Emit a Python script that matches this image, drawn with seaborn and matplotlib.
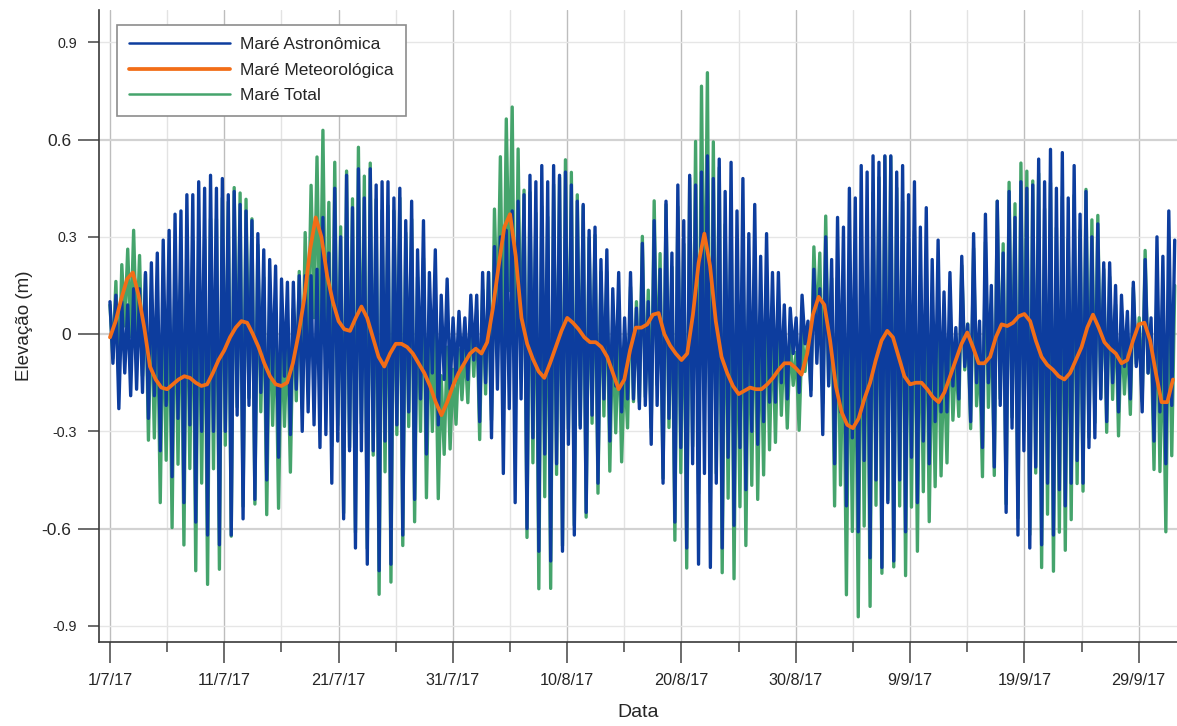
import numpy as np
import pandas as pd
import matplotlib
matplotlib.use("Agg")
import matplotlib.pyplot as plt
import matplotlib.dates as mdates
from matplotlib.ticker import FixedLocator, FixedFormatter, NullFormatter
from matplotlib.lines import Line2D
import seaborn as sns

# ---------------- data ----------------
series_names = ["Maré Astronômica", "Maré Meteorológica", "Maré Total"]

x_major_dates = ["2017-07-01", "2017-07-11", "2017-07-21", "2017-07-31", "2017-08-10",
                 "2017-08-20", "2017-08-30", "2017-09-09", "2017-09-19", "2017-09-29"]
x_tick_labels = ["1/7/17", "11/7/17", "21/7/17", "31/7/17", "10/8/17",
                 "20/8/17", "30/8/17", "9/9/17", "19/9/17", "29/9/17"]
x_minor_dates = ["2017-07-06", "2017-07-16", "2017-07-26", "2017-08-05", "2017-08-15",
                 "2017-08-25", "2017-09-04", "2017-09-14", "2017-09-24"]

y_major_ticks = [-0.6, 0.0, 0.6]
y_major_labels = ["-0.6", "0", "0.6"]
y_minor_ticks = [-0.9, -0.3, 0.3, 0.9]
y_minor_labels = ["-0.9", "-0.3", "0.3", "0.9"]

# successive high waters of the astronomical tide (m)
astro_high = [
    0.10, 0.12, 0.10, 0.09, 0.14, 0.14, 0.19, 0.22, 0.25, 0.29,
    0.32, 0.37, 0.38, 0.43, 0.43, 0.47, 0.45, 0.49, 0.45, 0.48,
    0.43, 0.44, 0.40, 0.38, 0.35, 0.31, 0.26, 0.23, 0.21, 0.17,
    0.16, 0.16, 0.18, 0.18, 0.18, 0.20, 0.36, 0.25, 0.45, 0.30,
    0.49, 0.39, 0.51, 0.42, 0.51, 0.46, 0.47, 0.47, 0.42, 0.45,
    0.35, 0.41, 0.26, 0.35, 0.19, 0.26, 0.12, 0.17, 0.05, 0.07,
    0.05, 0.12, 0.12, 0.19, 0.19, 0.27, 0.30, 0.32, 0.38, 0.41,
    0.43, 0.49, 0.47, 0.52, 0.47, 0.52, 0.49, 0.50, 0.46, 0.41,
    0.40, 0.32, 0.33, 0.23, 0.26, 0.14, 0.19, 0.05, 0.19, 0.08,
    0.28, 0.10, 0.35, 0.20, 0.41, 0.25, 0.46, 0.35, 0.49, 0.46,
    0.50, 0.55, 0.48, 0.54, 0.44, 0.53, 0.38, 0.48, 0.31, 0.40,
    0.24, 0.31, 0.19, 0.19, 0.09, 0.08, 0.05, 0.12, 0.04, 0.20,
    0.14, 0.30, 0.23, 0.36, 0.33, 0.45, 0.42, 0.52, 0.50, 0.55,
    0.53, 0.55, 0.55, 0.50, 0.52, 0.43, 0.47, 0.33, 0.39, 0.23,
    0.29, 0.13, 0.19, 0.02, 0.24, 0.03, 0.31, 0.04, 0.37, 0.15,
    0.41, 0.25, 0.44, 0.36, 0.47, 0.45, 0.46, 0.54, 0.47, 0.57,
    0.45, 0.56, 0.42, 0.52, 0.37, 0.44, 0.30, 0.34, 0.22, 0.22,
    0.15, 0.12, 0.07, 0.16, 0.02, 0.23, 0.05, 0.30, 0.24, 0.38,
    0.29,
]

# successive low waters of the astronomical tide (m)
astro_low = [
    -0.09, -0.23, -0.12, -0.19, -0.17, -0.18, -0.26, -0.19, -0.36, -0.22,
    -0.44, -0.26, -0.52, -0.28, -0.58, -0.30, -0.62, -0.30, -0.65, -0.30,
    -0.62, -0.25, -0.57, -0.22, -0.51, -0.18, -0.45, -0.14, -0.38, -0.13,
    -0.31, -0.17, -0.30, -0.24, -0.28, -0.35, -0.31, -0.46, -0.33, -0.57,
    -0.36, -0.66, -0.36, -0.71, -0.36, -0.73, -0.33, -0.71, -0.28, -0.62,
    -0.24, -0.51, -0.20, -0.37, -0.12, -0.28, -0.14, -0.17, -0.14, -0.10,
    -0.14, -0.08, -0.27, -0.15, -0.32, -0.17, -0.43, -0.23, -0.52, -0.20,
    -0.60, -0.32, -0.67, -0.37, -0.70, -0.40, -0.67, -0.34, -0.62, -0.29,
    -0.55, -0.25, -0.46, -0.20, -0.33, -0.16, -0.24, -0.20, -0.20, -0.23,
    -0.22, -0.34, -0.22, -0.46, -0.26, -0.58, -0.35, -0.66, -0.40, -0.71,
    -0.43, -0.72, -0.46, -0.66, -0.38, -0.59, -0.35, -0.48, -0.30, -0.34,
    -0.27, -0.21, -0.21, -0.15, -0.20, -0.06, -0.18, -0.03, -0.19, -0.09,
    -0.31, -0.16, -0.40, -0.24, -0.53, -0.32, -0.61, -0.39, -0.69, -0.45,
    -0.72, -0.52, -0.70, -0.45, -0.61, -0.38, -0.52, -0.33, -0.40, -0.27,
    -0.24, -0.24, -0.16, -0.20, -0.10, -0.27, -0.15, -0.35, -0.15, -0.41,
    -0.22, -0.55, -0.29, -0.62, -0.36, -0.66, -0.41, -0.65, -0.46, -0.62,
    -0.48, -0.53, -0.46, -0.39, -0.46, -0.35, -0.32, -0.20, -0.27, -0.15,
    -0.24, -0.10, -0.20, -0.10, -0.24, -0.12, -0.33, -0.24, -0.40, -0.22,
]

# meteorological tide, one value every 12 h from 1/7/17 00:00 (m)
meteo = [
    -0.01, 0.04, 0.11, 0.17, 0.19, 0.12, 0.02, -0.10, -0.14, -0.165,
    -0.17, -0.155, -0.14, -0.13, -0.135, -0.15, -0.16, -0.155, -0.12, -0.08,
    -0.05, -0.01, 0.02, 0.04, 0.035, 0.0, -0.04, -0.09, -0.13, -0.155,
    -0.16, -0.15, -0.09, 0.0, 0.11, 0.26, 0.36, 0.30, 0.18, 0.10,
    0.04, 0.015, 0.01, 0.05, 0.085, 0.05, -0.01, -0.07, -0.10, -0.06,
    -0.03, -0.03, -0.04, -0.06, -0.09, -0.12, -0.16, -0.21, -0.25, -0.21,
    -0.16, -0.12, -0.09, -0.06, -0.045, -0.06, -0.025, 0.08, 0.21, 0.33,
    0.37, 0.24, 0.05, -0.03, -0.077, -0.115, -0.135, -0.09, -0.04, 0.01,
    0.05, 0.035, 0.015, -0.01, -0.025, -0.025, -0.04, -0.07, -0.12, -0.17,
    -0.14, -0.05, 0.02, 0.02, 0.03, 0.06, 0.065, 0.0, -0.035, -0.06,
    -0.08, -0.06, 0.06, 0.22, 0.31, 0.21, 0.04, -0.07, -0.12, -0.16,
    -0.185, -0.175, -0.165, -0.17, -0.17, -0.155, -0.135, -0.11, -0.09, -0.09,
    -0.105, -0.125, -0.06, 0.06, 0.115, 0.09, -0.02, -0.16, -0.24, -0.28,
    -0.29, -0.26, -0.20, -0.15, -0.08, -0.02, 0.01, -0.01, -0.07, -0.13,
    -0.155, -0.15, -0.15, -0.17, -0.195, -0.21, -0.18, -0.13, -0.08, -0.03,
    0.005, -0.04, -0.09, -0.09, -0.07, -0.01, 0.03, 0.025, 0.035, 0.055,
    0.062, 0.04, -0.02, -0.07, -0.095, -0.11, -0.13, -0.14, -0.12, -0.08,
    -0.04, 0.02, 0.06, 0.02, -0.025, -0.045, -0.06, -0.09, -0.08, -0.02,
    0.03, 0.035, -0.02, -0.12, -0.21, -0.21, -0.14,
]

# ---------------- build time series ----------------
start = pd.Timestamp("2017-07-01 00:00")
tide_period_h = 12.42
hi_h = np.arange(len(astro_high)) * tide_period_h
lo_h = (np.arange(len(astro_low)) + 0.5) * tide_period_h
met_h = np.arange(len(meteo)) * 12.0

astro_vals = np.array(astro_high + astro_low)
ext_h = np.concatenate([hi_h, lo_h])
# total tide = astronomical + meteorological (value of the surge at each extreme)
total_vals = astro_vals + np.interp(ext_h, met_h, np.array(meteo))

df_tide = pd.DataFrame({
    "time": start + pd.to_timedelta(ext_h, unit="h"),
    "astro": astro_vals,
    "total": total_vals,
}).sort_values("time")
df_met = pd.DataFrame({"time": start + pd.to_timedelta(met_h, unit="h"), "meteo": meteo})

# ---------------- style ----------------
sns.set_theme(style="white")
plt.rcParams["font.family"] = ["Liberation Sans", "DejaVu Sans"]

c_astro = "#0d3d9e"
c_meteo = "#f26d17"
c_total = "#45a46c"
txt = "#262626"

W, H = 1177, 726
fig = plt.figure(figsize=(W / 100, H / 100), dpi=100)
ax = fig.add_axes([99 / W, 1 - 642 / H, (W - 99) / W, (642 - 10) / H])

sns.lineplot(data=df_tide, x="time", y="total", ax=ax, color=c_total, lw=2.4,
             estimator=None, sort=False, solid_joinstyle="round")
sns.lineplot(data=df_tide, x="time", y="astro", ax=ax, color=c_astro, lw=2.4,
             estimator=None, sort=False, solid_joinstyle="round")
sns.lineplot(data=df_met, x="time", y="meteo", ax=ax, color=c_meteo, lw=2.7,
             estimator=None, sort=False, solid_joinstyle="round")

# limits
ax.set_xlim(start - pd.Timedelta(days=0.96), start + pd.Timedelta(days=93.35))
ax.set_ylim(-0.95, 1.0)

# x ticks
ax.xaxis.set_major_locator(FixedLocator(mdates.date2num(pd.to_datetime(x_major_dates).to_pydatetime())))
ax.xaxis.set_major_formatter(FixedFormatter(x_tick_labels))
ax.xaxis.set_minor_locator(FixedLocator(mdates.date2num(pd.to_datetime(x_minor_dates).to_pydatetime())))
ax.xaxis.set_minor_formatter(NullFormatter())

# y ticks
ax.yaxis.set_major_locator(FixedLocator(y_major_ticks))
ax.yaxis.set_major_formatter(FixedFormatter(y_major_labels))
ax.yaxis.set_minor_locator(FixedLocator(y_minor_ticks))
ax.yaxis.set_minor_formatter(FixedFormatter(y_minor_labels))

ax.tick_params(axis="x", which="major", direction="out", length=15, width=1.1,
               color="#444444", labelsize=11.7, labelcolor=txt, pad=7.5, bottom=True)
ax.tick_params(axis="x", which="minor", direction="out", length=7.5, width=1.1,
               color="#444444", bottom=True)
ax.tick_params(axis="y", which="major", direction="out", length=15, width=1.1,
               color="#444444", labelsize=12.5, labelcolor=txt, pad=5, left=True)
ax.tick_params(axis="y", which="minor", direction="out", length=8, width=1.1,
               color="#444444", labelsize=10.3, labelcolor=txt, pad=8, left=True)

# grid
ax.set_axisbelow(True)
ax.grid(which="major", axis="x", color="#bdbdbd", lw=1.0)
ax.grid(which="minor", axis="x", color="#e3e3e3", lw=1.0)
ax.grid(which="major", axis="y", color="#d2d2d2", lw=1.6)
ax.grid(which="minor", axis="y", color="#e6e6e6", lw=1.0)

# spines
for s in ["top", "right"]:
    ax.spines[s].set_visible(False)
for s in ["left", "bottom"]:
    ax.spines[s].set_color("#3a3a3a")
    ax.spines[s].set_linewidth(1.2)

# labels
ax.set_xlabel("Data", fontsize=14, color=txt)
ax.set_ylabel("Elevação (m)", fontsize=13.5, color=txt)
ax.xaxis.set_label_coords(0.5, (642 - 704) / 632)
ax.yaxis.set_label_coords((33 - 99) / 1078, 0.5)

# legend
handles = [
    Line2D([], [], color=c_astro, lw=1.8),
    Line2D([], [], color=c_meteo, lw=2.7),
    Line2D([], [], color=c_total, lw=1.8),
]
leg = ax.legend(handles, series_names, loc="upper left",
                bbox_to_anchor=((117 - 99) / 1078, (642 - 25) / 632),
                borderaxespad=0, fontsize=12.5, frameon=True, fancybox=False,
                handlelength=5.8, handletextpad=0.6, labelspacing=0.6,
                borderpad=0.7)
leg.get_frame().set_edgecolor("#8c8c8c")
leg.get_frame().set_linewidth(1.2)
leg.get_frame().set_facecolor("white")
leg.get_frame().set_alpha(1.0)
for t in leg.get_texts():
    t.set_color(txt)

fig.savefig("out.png", dpi=100)
